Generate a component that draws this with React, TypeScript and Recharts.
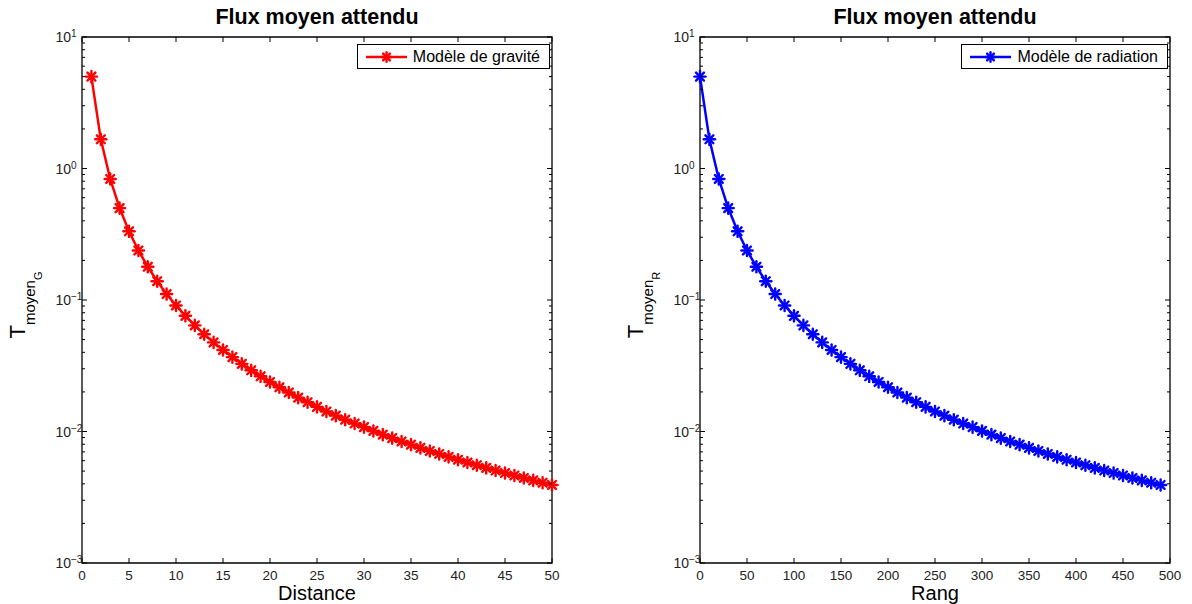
import React from "react";
import { LineChart, Line, XAxis, YAxis, ReferenceArea, Legend } from "recharts";

// valeurs (échelle log)
const distances = [
  1, 2, 3, 4, 5, 6, 7, 8, 9, 10, 11, 12, 13, 14, 15, 16, 17, 18, 19, 20, 21, 22, 23, 24, 25,
  26, 27, 28, 29, 30, 31, 32, 33, 34, 35, 36, 37, 38, 39, 40, 41, 42, 43, 44, 45, 46, 47, 48, 49, 50,
];
const gravite = [
  5, 1.667, 0.833, 0.5, 0.333, 0.238, 0.179, 0.139, 0.111, 0.0909, 0.0758, 0.0641, 0.0549, 0.0476,
  0.0417, 0.0368, 0.0327, 0.0292, 0.0263, 0.0238, 0.0217, 0.0198, 0.0181, 0.0167, 0.0154, 0.0142,
  0.0132, 0.0123, 0.0115, 0.0108, 0.0101, 0.00947, 0.00891, 0.0084, 0.00794, 0.00751, 0.00711,
  0.00675, 0.00641, 0.0061, 0.00581, 0.00554, 0.00529, 0.00505, 0.00483, 0.00463, 0.00443, 0.00425,
  0.00408, 0.00392,
];
const rangs = [
  0, 10, 20, 30, 40, 50, 60, 70, 80, 90, 100, 110, 120, 130, 140, 150, 160, 170, 180, 190, 200,
  210, 220, 230, 240, 250, 260, 270, 280, 290, 300, 310, 320, 330, 340, 350, 360, 370, 380, 390,
  400, 410, 420, 430, 440, 450, 460, 470, 480, 490,
];
const radiation = [
  5, 1.667, 0.833, 0.5, 0.333, 0.238, 0.179, 0.139, 0.111, 0.0909, 0.0758, 0.0641, 0.0549, 0.0476,
  0.0417, 0.0368, 0.0327, 0.0292, 0.0263, 0.0238, 0.0217, 0.0198, 0.0181, 0.0167, 0.0154, 0.0142,
  0.0132, 0.0123, 0.0115, 0.0108, 0.0101, 0.00947, 0.00891, 0.0084, 0.00794, 0.00751, 0.00711,
  0.00675, 0.00641, 0.0061, 0.00581, 0.00554, 0.00529, 0.00505, 0.00483, 0.00463, 0.00443, 0.00425,
  0.00408, 0.00392,
];
const distanceTicks = [0, 5, 10, 15, 20, 25, 30, 35, 40, 45, 50];
const rangTicks = [0, 50, 100, 150, 200, 250, 300, 350, 400, 450, 500];
const decades = [0.001, 0.01, 0.1, 1, 10];
const minorSteps = [2, 3, 4, 5, 6, 7, 8, 9];

const FONT = "'Liberation Sans', Arial, Helvetica, sans-serif";
const PLOT_W = 470;
const PLOT_H = 526;

const yTicks = [
  ...decades,
  ...decades.slice(0, -1).flatMap((d) => minorSteps.map((m) => Number((d * m).toPrecision(3)))),
];

function Asterisk({ cx, cy, color, r = 5.6, w = 2.4 }: { cx: number; cy: number; color: string; r?: number; w?: number }) {
  const d = r * 0.7071;
  return (
    <g stroke={color} strokeWidth={w} strokeLinecap="round">
      <line x1={cx - r} y1={cy} x2={cx + r} y2={cy} />
      <line x1={cx} y1={cy - r} x2={cx} y2={cy + r} />
      <line x1={cx - d} y1={cy - d} x2={cx + d} y2={cy + d} />
      <line x1={cx - d} y1={cy + d} x2={cx + d} y2={cy - d} />
    </g>
  );
}

function YTick(props: any) {
  const { x, y, payload } = props;
  const v = payload.value;
  const major = decades.includes(v);
  const len = major ? 5 : 3;
  const exp = Math.round(Math.log10(v));
  const expText = exp < 0 ? "\u2212" + Math.abs(exp) : String(exp);
  return (
    <g>
      <line x1={x} y1={y} x2={x + len} y2={y} stroke="#000" strokeWidth={1} />
      <line x1={x + PLOT_W} y1={y} x2={x + PLOT_W - len} y2={y} stroke="#000" strokeWidth={1} />
      {major && (
        <>
          <text x={x - 11} y={y + 5} textAnchor="end" fontSize={14} fill="#222" fontFamily={FONT}>
            10
          </text>
          <text x={x - 11} y={y} textAnchor="start" fontSize={10} fill="#222" fontFamily={FONT}>
            {expText}
          </text>
        </>
      )}
    </g>
  );
}

function XTick(props: any) {
  const { x, y, payload } = props;
  return (
    <g>
      <line x1={x} y1={y} x2={x} y2={y - 5} stroke="#000" strokeWidth={1} />
      <line x1={x} y1={y - PLOT_H} x2={x} y2={y - PLOT_H + 5} stroke="#000" strokeWidth={1} />
      <text x={x} y={y + 17} textAnchor="middle" fontSize={13.5} fill="#222" fontFamily={FONT}>
        {payload.value}
      </text>
    </g>
  );
}

function Panel({
  left,
  xs,
  ys,
  xTicks,
  color,
  name,
  xLabel,
  sub,
}: {
  left: number;
  xs: number[];
  ys: number[];
  xTicks: number[];
  color: string;
  name: string;
  xLabel: string;
  sub: string;
}) {
  const data = xs.map((x, i) => ({ x, y: ys[i] }));
  const xMax = xTicks[xTicks.length - 1];

  const renderYLabel = (p: any) => {
    const vb = p.viewBox || { x: 22, y: 37, width: 60, height: PLOT_H };
    const bx = vb.x + vb.width - 57;
    const cy = vb.y + vb.height / 2 + 5;
    return (
      <text
        x={bx}
        y={cy}
        transform={`rotate(-90 ${bx} ${cy})`}
        textAnchor="middle"
        fontFamily={FONT}
        fill="#000"
        fontSize={22}
      >
        T
        <tspan fontSize={15} dy={10}>
          moyen
        </tspan>
        <tspan fontSize={11} dy={7}>
          {sub}
        </tspan>
      </text>
    );
  };

  const renderXLabel = (p: any) => {
    const vb = p.viewBox || { x: 82, y: 563, width: PLOT_W, height: 30 };
    return (
      <text x={vb.x + vb.width / 2} y={vb.y + 37} textAnchor="middle" fontSize={20} fontFamily={FONT} fill="#000">
        {xLabel}
      </text>
    );
  };

  const renderLegend = (p: any) => {
    const item = p.payload && p.payload[0];
    return (
      <div
        style={{
          border: "1px solid #000",
          background: "#fff",
          height: 23,
          display: "flex",
          alignItems: "center",
          paddingLeft: 6,
          paddingRight: 9,
          fontFamily: FONT,
          fontSize: 16,
          color: "#000",
          whiteSpace: "nowrap",
        }}
      >
        <svg width={46} height={23} style={{ display: "block" }}>
          <line x1={2} y1={12} x2={43} y2={12} stroke={color} strokeWidth={2.5} />
          <Asterisk cx={22.5} cy={12} color={color} r={4.8} />
        </svg>
        <span style={{ marginLeft: 3 }}>{item ? item.value : name}</span>
      </div>
    );
  };

  return (
    <div style={{ position: "absolute", left, top: 0, width: 574, height: 604 }}>
      <div
        style={{
          position: "absolute",
          left: 82,
          width: PLOT_W,
          top: 7,
          textAlign: "center",
          fontFamily: FONT,
          fontWeight: "bold",
          fontSize: 21.5,
          lineHeight: "21.5px",
          color: "#000",
          zIndex: 2,
        }}
      >
        Flux moyen attendu
      </div>
      <LineChart width={574} height={604} data={data} margin={{ top: 37, right: 22, bottom: 11, left: 22 }}>
        <XAxis
          type="number"
          dataKey="x"
          domain={[0, xMax]}
          ticks={xTicks}
          interval={0}
          axisLine={false}
          tickLine={false}
          tickSize={0}
          tickMargin={0}
          height={30}
          tick={(p: any) => <XTick {...p} />}
          label={renderXLabel}
        />
        <YAxis
          type="number"
          scale="log"
          domain={[0.001, 10]}
          allowDataOverflow
          ticks={yTicks}
          interval={0}
          axisLine={false}
          tickLine={false}
          tickSize={0}
          tickMargin={0}
          width={60}
          tick={(p: any) => <YTick {...p} />}
          label={renderYLabel}
        />
        <ReferenceArea x1={0} x2={xMax} y1={0.001} y2={10} fill="none" stroke="#000" strokeWidth={1.3} />
        <Legend
          layout="vertical"
          align="center"
          verticalAlign="middle"
          content={renderLegend}
          wrapperStyle={{ left: "auto", right: 24, top: 44, width: "auto", height: "auto" }}
        />
        <Line
          type="linear"
          dataKey="y"
          name={name}
          stroke={color}
          strokeWidth={2.5}
          isAnimationActive={false}
          activeDot={false}
          dot={(p: any) => <Asterisk key={p.index} cx={p.cx} cy={p.cy} color={color} />}
        />
      </LineChart>
    </div>
  );
}

export default function App() {
  return (
    <div
      style={{
        position: "absolute",
        left: 0,
        top: 0,
        width: 1192,
        height: 604,
        background: "#fff",
        fontFamily: FONT,
        overflow: "hidden",
      }}
    >
      <Panel
        left={0}
        xs={distances}
        ys={gravite}
        xTicks={distanceTicks}
        color="#ff0000"
        name="Modèle de gravité"
        xLabel="Distance"
        sub="G"
      />
      <Panel
        left={618}
        xs={rangs}
        ys={radiation}
        xTicks={rangTicks}
        color="#0000ff"
        name="Modèle de radiation"
        xLabel="Rang"
        sub="R"
      />
    </div>
  );
}
